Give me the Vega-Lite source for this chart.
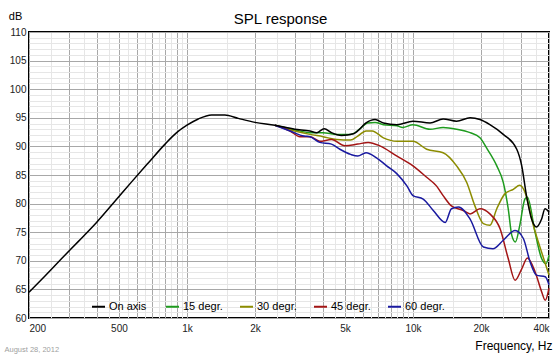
{
  "$schema": "https://vega.github.io/schema/vega-lite/v6.json",
  "width": 520,
  "height": 286,
  "autosize": "none",
  "padding": {"left": 29, "top": 32, "right": 11, "bottom": 38},
  "background": "white",
  "config": {
    "view": {"stroke": "#000", "strokeWidth": 2},
    "font": "Liberation Sans",
    "axis": {"domain": false, "ticks": false, "labelFont": "Liberation Sans", "titleFont": "Liberation Sans", "labelFontSize": 10, "labelColor": "#222", "titleColor": "#000", "titleFontWeight": "normal"}
  },
  "data": {"values": [
    {"s": "15 degr.", "f": 2450, "db": 93.7}, {"s": "15 degr.", "f": 3000, "db": 92.9}, {"s": "15 degr.", "f": 3500, "db": 92.4}, {"s": "15 degr.", "f": 4000, "db": 92.4}, {"s": "15 degr.", "f": 4600, "db": 92.1}, {"s": "15 degr.", "f": 5300, "db": 92.1}, {"s": "15 degr.", "f": 5800, "db": 93.0}, {"s": "15 degr.", "f": 6300, "db": 94.1}, {"s": "15 degr.", "f": 6800, "db": 94.2}, {"s": "15 degr.", "f": 7400, "db": 93.8}, {"s": "15 degr.", "f": 8500, "db": 93.6}, {"s": "15 degr.", "f": 9000, "db": 93.3}, {"s": "15 degr.", "f": 10000, "db": 93.8}, {"s": "15 degr.", "f": 11900, "db": 93.0}, {"s": "15 degr.", "f": 13600, "db": 93.3}, {"s": "15 degr.", "f": 15600, "db": 93.0}, {"s": "15 degr.", "f": 17900, "db": 92.4}, {"s": "15 degr.", "f": 19800, "db": 91.5}, {"s": "15 degr.", "f": 21200, "db": 89.7}, {"s": "15 degr.", "f": 23500, "db": 86.6}, {"s": "15 degr.", "f": 25100, "db": 83.7}, {"s": "15 degr.", "f": 26400, "db": 79.1}, {"s": "15 degr.", "f": 27400, "db": 74.4}, {"s": "15 degr.", "f": 28400, "db": 73.3}, {"s": "15 degr.", "f": 29700, "db": 76.2}, {"s": "15 degr.", "f": 31300, "db": 80.8}, {"s": "15 degr.", "f": 32100, "db": 81.1}, {"s": "15 degr.", "f": 34700, "db": 75.0}, {"s": "15 degr.", "f": 37100, "db": 70.4}, {"s": "15 degr.", "f": 38800, "db": 69.5}, {"s": "15 degr.", "f": 40000, "db": 71.0},
    {"s": "30 degr.", "f": 2450, "db": 93.7}, {"s": "30 degr.", "f": 3000, "db": 92.7}, {"s": "30 degr.", "f": 3500, "db": 92.1}, {"s": "30 degr.", "f": 4000, "db": 91.7}, {"s": "30 degr.", "f": 4600, "db": 91.2}, {"s": "30 degr.", "f": 5300, "db": 91.1}, {"s": "30 degr.", "f": 5700, "db": 91.8}, {"s": "30 degr.", "f": 6200, "db": 92.7}, {"s": "30 degr.", "f": 6600, "db": 92.7}, {"s": "30 degr.", "f": 7400, "db": 91.5}, {"s": "30 degr.", "f": 8500, "db": 90.9}, {"s": "30 degr.", "f": 10000, "db": 90.9}, {"s": "30 degr.", "f": 11500, "db": 89.5}, {"s": "30 degr.", "f": 13600, "db": 88.9}, {"s": "30 degr.", "f": 15600, "db": 86.6}, {"s": "30 degr.", "f": 17300, "db": 83.7}, {"s": "30 degr.", "f": 18800, "db": 79.6}, {"s": "30 degr.", "f": 20500, "db": 76.5}, {"s": "30 degr.", "f": 21900, "db": 76.2}, {"s": "30 degr.", "f": 23500, "db": 79.1}, {"s": "30 degr.", "f": 25500, "db": 81.7}, {"s": "30 degr.", "f": 27800, "db": 82.5}, {"s": "30 degr.", "f": 29700, "db": 83.2}, {"s": "30 degr.", "f": 31300, "db": 82.0}, {"s": "30 degr.", "f": 34100, "db": 76.2}, {"s": "30 degr.", "f": 37100, "db": 71.5}, {"s": "30 degr.", "f": 40000, "db": 67.5},
    {"s": "45 degr.", "f": 2450, "db": 93.7}, {"s": "45 degr.", "f": 2860, "db": 92.7}, {"s": "45 degr.", "f": 3160, "db": 91.7}, {"s": "45 degr.", "f": 3500, "db": 91.7}, {"s": "45 degr.", "f": 3870, "db": 90.9}, {"s": "45 degr.", "f": 4360, "db": 91.2}, {"s": "45 degr.", "f": 5000, "db": 90.1}, {"s": "45 degr.", "f": 5700, "db": 90.4}, {"s": "45 degr.", "f": 6340, "db": 90.7}, {"s": "45 degr.", "f": 7140, "db": 90.1}, {"s": "45 degr.", "f": 8500, "db": 88.3}, {"s": "45 degr.", "f": 10000, "db": 86.6}, {"s": "45 degr.", "f": 11500, "db": 84.6}, {"s": "45 degr.", "f": 12700, "db": 83.1}, {"s": "45 degr.", "f": 13600, "db": 81.4}, {"s": "45 degr.", "f": 14800, "db": 79.6}, {"s": "45 degr.", "f": 16700, "db": 78.8}, {"s": "45 degr.", "f": 17900, "db": 78.2}, {"s": "45 degr.", "f": 19800, "db": 79.1}, {"s": "45 degr.", "f": 21900, "db": 78.2}, {"s": "45 degr.", "f": 24300, "db": 75.6}, {"s": "45 degr.", "f": 26400, "db": 70.4}, {"s": "45 degr.", "f": 28300, "db": 66.6}, {"s": "45 degr.", "f": 30300, "db": 68.6}, {"s": "45 degr.", "f": 32100, "db": 70.5}, {"s": "45 degr.", "f": 34700, "db": 68.1}, {"s": "45 degr.", "f": 37100, "db": 64.6}, {"s": "45 degr.", "f": 38500, "db": 63.1}, {"s": "45 degr.", "f": 40000, "db": 65.2},
    {"s": "60 degr.", "f": 2450, "db": 93.7}, {"s": "60 degr.", "f": 2860, "db": 92.7}, {"s": "60 degr.", "f": 3300, "db": 91.8}, {"s": "60 degr.", "f": 3500, "db": 91.7}, {"s": "60 degr.", "f": 3870, "db": 90.7}, {"s": "60 degr.", "f": 4360, "db": 90.4}, {"s": "60 degr.", "f": 4750, "db": 89.5}, {"s": "60 degr.", "f": 5300, "db": 88.6}, {"s": "60 degr.", "f": 5700, "db": 88.3}, {"s": "60 degr.", "f": 6200, "db": 88.9}, {"s": "60 degr.", "f": 6900, "db": 88.0}, {"s": "60 degr.", "f": 7650, "db": 86.6}, {"s": "60 degr.", "f": 8500, "db": 85.2}, {"s": "60 degr.", "f": 9400, "db": 83.1}, {"s": "60 degr.", "f": 10000, "db": 81.4}, {"s": "60 degr.", "f": 11100, "db": 80.8}, {"s": "60 degr.", "f": 12300, "db": 78.8}, {"s": "60 degr.", "f": 13900, "db": 76.7}, {"s": "60 degr.", "f": 14800, "db": 79.1}, {"s": "60 degr.", "f": 15900, "db": 79.4}, {"s": "60 degr.", "f": 17900, "db": 77.3}, {"s": "60 degr.", "f": 20500, "db": 72.4}, {"s": "60 degr.", "f": 22600, "db": 72.1}, {"s": "60 degr.", "f": 25100, "db": 73.6}, {"s": "60 degr.", "f": 28300, "db": 75.3}, {"s": "60 degr.", "f": 30800, "db": 73.9}, {"s": "60 degr.", "f": 33000, "db": 69.8}, {"s": "60 degr.", "f": 35200, "db": 67.5}, {"s": "60 degr.", "f": 38500, "db": 67.2}, {"s": "60 degr.", "f": 40000, "db": 65.8},
    {"s": "On axis", "f": 200, "db": 64.5}, {"s": "On axis", "f": 236, "db": 67.4}, {"s": "On axis", "f": 279, "db": 70.4}, {"s": "On axis", "f": 331, "db": 73.4}, {"s": "On axis", "f": 398, "db": 76.7}, {"s": "On axis", "f": 480, "db": 80.4}, {"s": "On axis", "f": 569, "db": 83.8}, {"s": "On axis", "f": 674, "db": 87.1}, {"s": "On axis", "f": 800, "db": 90.4}, {"s": "On axis", "f": 900, "db": 92.4}, {"s": "On axis", "f": 1000, "db": 93.7}, {"s": "On axis", "f": 1122, "db": 94.8}, {"s": "On axis", "f": 1285, "db": 95.5}, {"s": "On axis", "f": 1472, "db": 95.5}, {"s": "On axis", "f": 1687, "db": 94.9}, {"s": "On axis", "f": 2000, "db": 94.2}, {"s": "On axis", "f": 2450, "db": 93.7}, {"s": "On axis", "f": 3000, "db": 93.0}, {"s": "On axis", "f": 3500, "db": 92.7}, {"s": "On axis", "f": 3750, "db": 92.4}, {"s": "On axis", "f": 4050, "db": 93.1}, {"s": "On axis", "f": 4360, "db": 92.4}, {"s": "On axis", "f": 4830, "db": 91.9}, {"s": "On axis", "f": 5450, "db": 92.2}, {"s": "On axis", "f": 5700, "db": 92.7}, {"s": "On axis", "f": 6200, "db": 94.1}, {"s": "On axis", "f": 6800, "db": 94.7}, {"s": "On axis", "f": 7400, "db": 94.1}, {"s": "On axis", "f": 8500, "db": 93.8}, {"s": "On axis", "f": 10000, "db": 94.4}, {"s": "On axis", "f": 11900, "db": 94.1}, {"s": "On axis", "f": 13600, "db": 94.8}, {"s": "On axis", "f": 15600, "db": 94.4}, {"s": "On axis", "f": 17900, "db": 95.0}, {"s": "On axis", "f": 19800, "db": 94.7}, {"s": "On axis", "f": 21900, "db": 93.8}, {"s": "On axis", "f": 25100, "db": 92.1}, {"s": "On axis", "f": 28800, "db": 89.5}, {"s": "On axis", "f": 30300, "db": 86.6}, {"s": "On axis", "f": 31800, "db": 81.4}, {"s": "On axis", "f": 33500, "db": 77.3}, {"s": "On axis", "f": 35200, "db": 75.9}, {"s": "On axis", "f": 37100, "db": 77.3}, {"s": "On axis", "f": 38400, "db": 79.1}, {"s": "On axis", "f": 40000, "db": 78.5}
  ]},
  "layer": [
    {
      "mark": {"type": "line", "opacity": 0},
      "encoding": {
        "x": {"field": "f", "type": "quantitative", "axis": {"orient": "top", "labels": false, "grid": true, "gridColor": "#e6e6e6", "gridWidth": 1, "values": [250,350,450,550,650,750,850,950,1500,2500,3500,4500,5500,6500,7500,8500,9500,15000,25000,35000], "title": "SPL response", "titleFontSize": 15, "titleAlign": "center", "titleBaseline": "alphabetic", "titleX": 251, "titleY": -9}},
        "y": {"field": "db", "type": "quantitative", "axis": {"orient": "right", "labels": false, "grid": true, "gridColor": "#e6e6e6", "gridWidth": 1, "values": [60,61,62,63,64,65,66,67,68,69,70,71,72,73,74,75,76,77,78,79,80,81,82,83,84,85,86,87,88,89,90,91,92,93,94,95,96,97,98,99,100,101,102,103,104,105,106,107,108,109,110], "title": "August 28, 2012", "titleAngle": 0, "titleAlign": "left", "titleBaseline": "alphabetic", "titleX": -545, "titleY": 319, "titleFontSize": 7.5, "titleColor": "#a0a0a0"}}
      }
    },
    {
      "mark": {"type": "line", "strokeWidth": 1.5, "interpolate": "monotone"},
      "encoding": {
        "x": {"field": "f", "type": "quantitative", "scale": {"type": "log", "domain": [200, 40000], "nice": false}, "axis": {"orient": "bottom", "grid": true, "gridColor": "#a8a8a8", "gridWidth": 1, "values": [200,300,400,500,600,700,800,900,1000,2000,3000,4000,5000,6000,7000,8000,9000,10000,20000,30000,40000], "labelExpr": "indexof([200,500,1000,2000,5000,10000,20000,40000], datum.value) >= 0 ? (datum.value >= 1000 ? (datum.value/1000) + 'k' : '' + datum.value) : ''", "labelOverlap": false, "labelFlush": true, "labelPadding": 5, "title": "Frequency, Hz", "titleFontSize": 12, "titleAlign": "right", "titleBaseline": "alphabetic", "titleX": 523, "titleY": 31}},
        "y": {"field": "db", "type": "quantitative", "scale": {"domain": [60, 110], "nice": false, "zero": false}, "axis": {"orient": "left", "grid": true, "gridColor": "#a8a8a8", "gridWidth": 1, "values": [60,65,70,75,80,85,90,95,100,105,110], "labelPadding": 3, "labelBaseline": "middle", "title": "dB", "titleAngle": 0, "titleAlign": "center", "titleBaseline": "alphabetic", "titleX": -14, "titleY": -13, "titleFontSize": 11}},
        "color": {"field": "s", "type": "nominal", "scale": {"domain": ["On axis", "15 degr.", "30 degr.", "45 degr.", "60 degr."], "range": ["#000000", "#1e9b1e", "#8c8c00", "#a31515", "#1a1aa0"]}, "legend": {"orient": "none", "legendX": 62, "legendY": 267, "direction": "horizontal", "columns": 5, "gridAlign": "all", "title": null, "symbolType": "stroke", "symbolStrokeWidth": 2, "symbolSize": 169, "labelFontSize": 11, "labelColor": "#000", "labelOffset": 3, "columnPadding": 13, "padding": 0}}
      }
    }
  ],
  "resolve": {"axis": {"x": "independent", "y": "independent"}}
}
